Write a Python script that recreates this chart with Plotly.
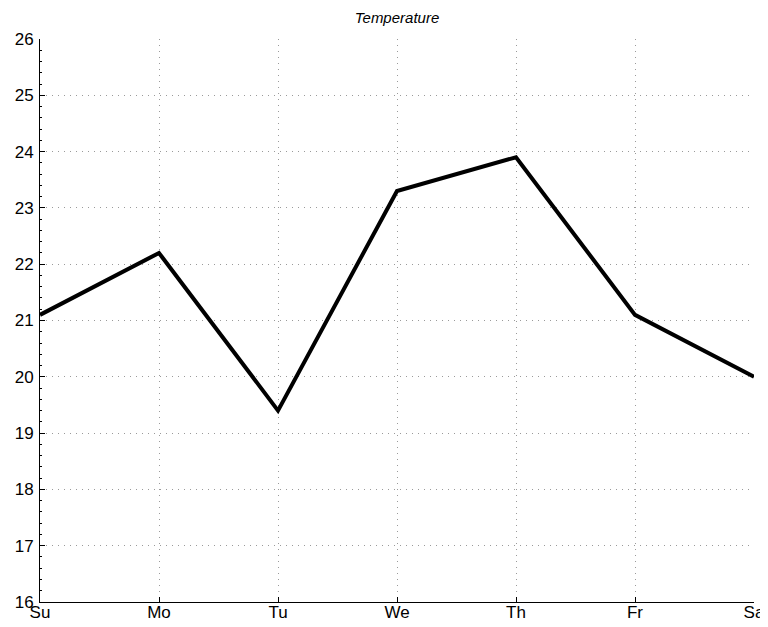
import plotly.graph_objects as go

days = ["Su", "Mo", "Tu", "We", "Th", "Fr", "Sa"]
temperature = [21.1, 22.2, 19.4, 23.3, 23.9, 21.1, 20.0]
y_ticks = [16, 17, 18, 19, 20, 21, 22, 23, 24, 25, 26]

x_idx = list(range(len(days)))

fig = go.Figure()
fig.add_trace(go.Scatter(
    x=x_idx, y=temperature, mode="lines",
    line=dict(color="black", width=4),
    showlegend=False, cliponaxis=False,
))

# page body adds an ~8px offset, so the figure is sized to the visible area
W, H = 760, 619
font = "Liberation Sans, Arial, Helvetica, sans-serif"
fig.update_layout(
    width=W, height=H,
    margin=dict(l=32, r=14, t=31, b=25),
    paper_bgcolor="white", plot_bgcolor="white",
    font=dict(family=font, size=17, color="black"),
    title=dict(text="<i>Temperature</i>", x=(32 + (W - 14)) / 2 / W, xanchor="center",
               xref="container",
               y=1 - 4 / H, yanchor="top",
               font=dict(family=font, size=15, color="black")),
    xaxis=dict(
        range=[0, 6], tickvals=x_idx, ticktext=days, automargin=False,
        showline=True, linecolor="black", linewidth=1, mirror=False,
        ticks="inside", ticklen=5, tickcolor="black",
        showgrid=True, gridcolor="#9a9a9a", gridwidth=1, griddash="1px,5px",
        zeroline=False, tickfont=dict(size=17), ticklabelstandoff=-5,
    ),
    yaxis=dict(
        range=[16, 26], tickvals=y_ticks, automargin=False,
        showline=True, linecolor="black", linewidth=1, mirror=False,
        ticks="inside", ticklen=5, tickcolor="black",
        showgrid=True, gridcolor="#9a9a9a", gridwidth=1, griddash="1px,5px",
        zeroline=False, tickfont=dict(size=17), ticklabelstandoff=2,
        minor=dict(dtick=0.2, ticks="inside", ticklen=2, tickcolor="black",
                   showgrid=False),
    ),
)

fig.write_html("out.html")
